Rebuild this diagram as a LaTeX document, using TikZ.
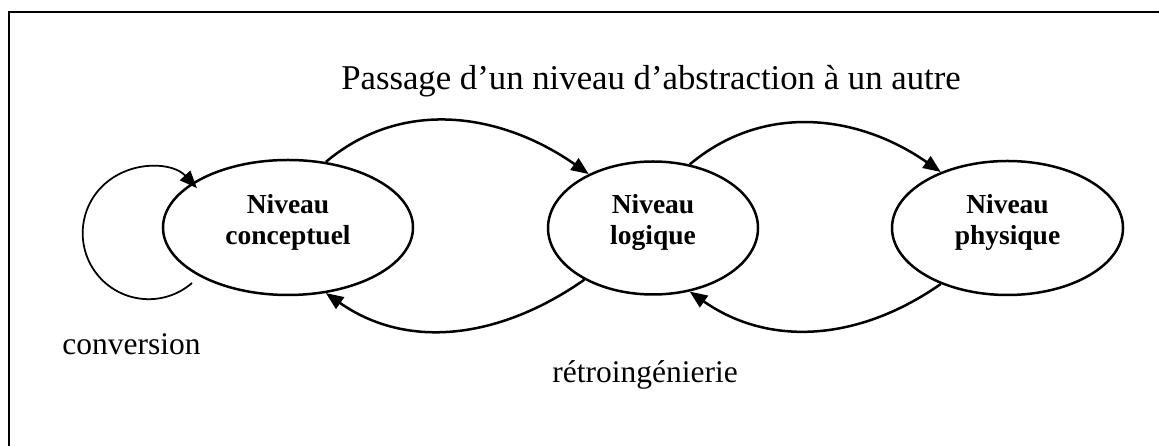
\documentclass[tikz,border=0pt]{standalone}
\usepackage{fontspec}
\setmainfont{Liberation Serif}
\usetikzlibrary{arrows.meta,shapes.geometric}

\begin{document}
\begin{tikzpicture}[x=0.4pt,y=0.4pt,
    niveau/.style={draw,ellipse,line width=1pt,inner sep=0pt,align=center,
      font=\fontsize{11}{12.4}\selectfont\bfseries,text depth=6.5pt},
    fleche/.style={line width=1pt,-{Triangle[length=7pt,width=5.6pt]}},
    legende/.style={font=\fontsize{12.6}{15}\selectfont,anchor=base}]
    \useasboundingbox (0,0) rectangle (1159,446);
    % frame
    \draw[line width=0.9pt] (9,0) -- (9,434) -- (1159,434);

    % levels
    \node[niveau,minimum width=100pt,minimum height=54pt] (conc) at (288,218.5) {Niveau\\conceptuel};
    \node[niveau,minimum width=84pt,minimum height=53.2pt] (log) at (653,218) {Niveau\\logique};
    \node[niveau,minimum width=92.4pt,minimum height=53.6pt] (phys) at (1007.5,218) {Niveau\\physique};

    % passage to the next level
    \draw[fleche] (conc.60) to[out=40,in=145] (log.140);
    \draw[fleche] (log.60) to[out=40,in=145] (phys.140);

    % back to the previous level
    \draw[fleche] (log.217) to[out=215,in=325] (conc.300);
    \draw[fleche] (phys.220) to[out=215,in=325] (log.300);

    % conversion loop
    \coordinate (boucle) at (192,163);
    \draw[line width=0.7pt,-{Triangle[length=7pt,width=5.6pt]}] (boucle) arc[start angle=-49,end angle=-317,radius=66];

    % labels
    \node[legende,font=\fontsize{13.9}{16}\selectfont] (passage) at (651,356) {Passage d’un niveau d’abstraction à un autre};
    \node[legende] (conversion) at (131.5,91) {conversion};
    \node[legende] (retro) at (645,63) {rétroingénierie};
\end{tikzpicture}
\end{document}
